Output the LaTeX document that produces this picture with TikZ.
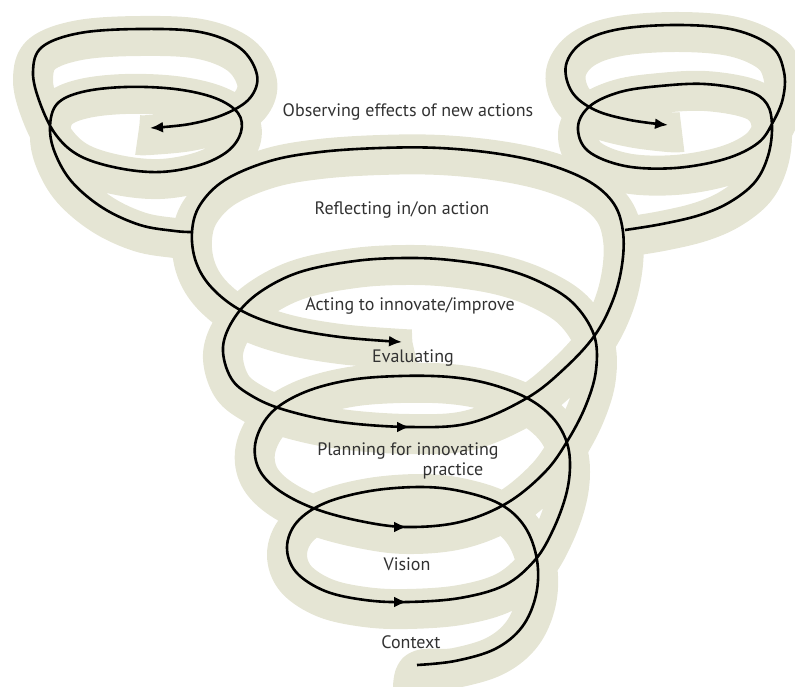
\documentclass[tikz,border=0pt]{standalone}
\usepackage{fontspec}
\setmainfont{PT Sans}
\usetikzlibrary{arrows.meta}

\definecolor{bandbeige}{RGB}{229,229,212}
\definecolor{labelgrey}{RGB}{50,50,50}

\tikzset{
  ribbon/.style={draw=bandbeige,line width=40pt,line join=round,shift={(0,7)}},
  thread/.style={draw=black,line width=2.6pt},
  tipped/.style={thread,-{Latex[length=13pt,width=11pt]}},
  stage/.style={text=labelgrey,font=\fontsize{18}{21}\selectfont,inner sep=0pt},
}

% points of the turns, from the bottom up (each turn ends on an arrow)
\def\ptsA{(417,665) (455,661) (495,649) (522,627) (536,595) (537,560) (525,527) (500,504) (460,491) (420,487) (370,491) (325,503) (297,522) (287,547) (296,572) (325,591) (365,600) (407,602)}
\def\ptsB{(460,598) (505,585) (535,560) (553,530) (566,495) (570,465) (566,440) (552,417) (527,398) (490,384) (450,377) (400,376) (350,380) (305,392) (272,412) (256,440) (258,467) (277,489) (313,508) (360,521) (407,527)}
\def\ptsC{(460,522) (507,503) (545,472) (568,440) (586,405) (596,370) (594,335) (573,303) (540,282) (500,268) (450,260) (405,258) (355,261) (300,272) (260,292) (235,317) (223,347) (231,378) (252,396) (285,410) (340,422) (410,427)}
\def\ptsD{(470,423) (527,398) (565,368) (595,335) (613,300) (622,265) (623,232) (614,204) (590,182) (550,165) (500,154) (440,148) (380,148) (320,152) (270,161) (225,180) (200,205) (192,232) (196,262) (212,288) (242,311) (285,327) (340,337) (402,342)}
% the two small curls at the top
\def\ptsL{(192,232) (175,231) (140,225) (103,208) (72,182) (55,153) (50,127) (57,104) (82,92) (125,87) (175,89) (215,98) (238,113) (241,132) (228,151) (200,165) (160,172) (118,168) (80,156) (56,135) (40,103) (33,72) (42,47) (80,33) (140,29) (200,32) (240,48) (257,75) (250,98) (225,114) (190,124) (150,128)}
\def\ptsR{(625,230) (662,224) (700,215) (730,202) (755,182) (768,156) (772,127) (767,104) (748,91) (705,84) (660,86) (620,92) (590,106) (578,127) (588,151) (625,166) (675,168) (725,159) (758,143) (773,122) (783,98) (784,72) (772,47) (735,30) (680,25) (620,29) (583,42) (566,65) (572,92) (595,110) (630,120) (668,125)}

\def\smoothplot{plot[smooth,tension=.6] coordinates}
\edef\spiral{\smoothplot {\ptsA \ptsB \ptsC \ptsD}}
\edef\curlL{\smoothplot {\ptsL}}
\edef\curlR{\smoothplot {\ptsR}}
% ribbons, one piece each
\edef\ribbonmain{\smoothplot {(414,700) \ptsA \ptsB \ptsC \ptsD (414,342)}}
\edef\ribbonleft{\smoothplot {\ptsL (138,128)}}
\edef\ribbonright{\smoothplot {\ptsR (682,125)}}

\begin{document}
\begin{tikzpicture}[x=1pt,y=-1pt]
    \useasboundingbox (0,0) rectangle (795,686);
    \clip (0,0) rectangle (795,686);

    % beige ribbon under the line
    \draw[ribbon] \ribbonmain;
    \draw[ribbon] \ribbonleft;
    \draw[ribbon] \ribbonright;

    % black line
    \draw[tipped] \spiral;
    \draw[tipped] \curlL;
    \draw[tipped] \curlR;
    % arrow heads on the front of each turn
    \foreach \ax/\ay in {407/602, 407/527, 410/427}
        \draw[tipped] (\ax-12,\ay) -- (\ax,\ay);

    \node[stage] (observing) at (408,112) {Observing effects of new actions};
    \node[stage] (reflecting) at (402,210) {Reflecting in/on action};
    \node[stage] (acting) at (410,306) {Acting to innovate/improve};
    \node[stage] (evaluating) at (413,358) {Evaluating};
    \node[stage] (planning) at (408,451) {Planning for innovating};
    \node[stage] (practice) at (453,471) {practice};
    \node[stage] (vision) at (407,564) {Vision};
    \node[stage] (context) at (411,642) {Context};
\end{tikzpicture}
\end{document}
